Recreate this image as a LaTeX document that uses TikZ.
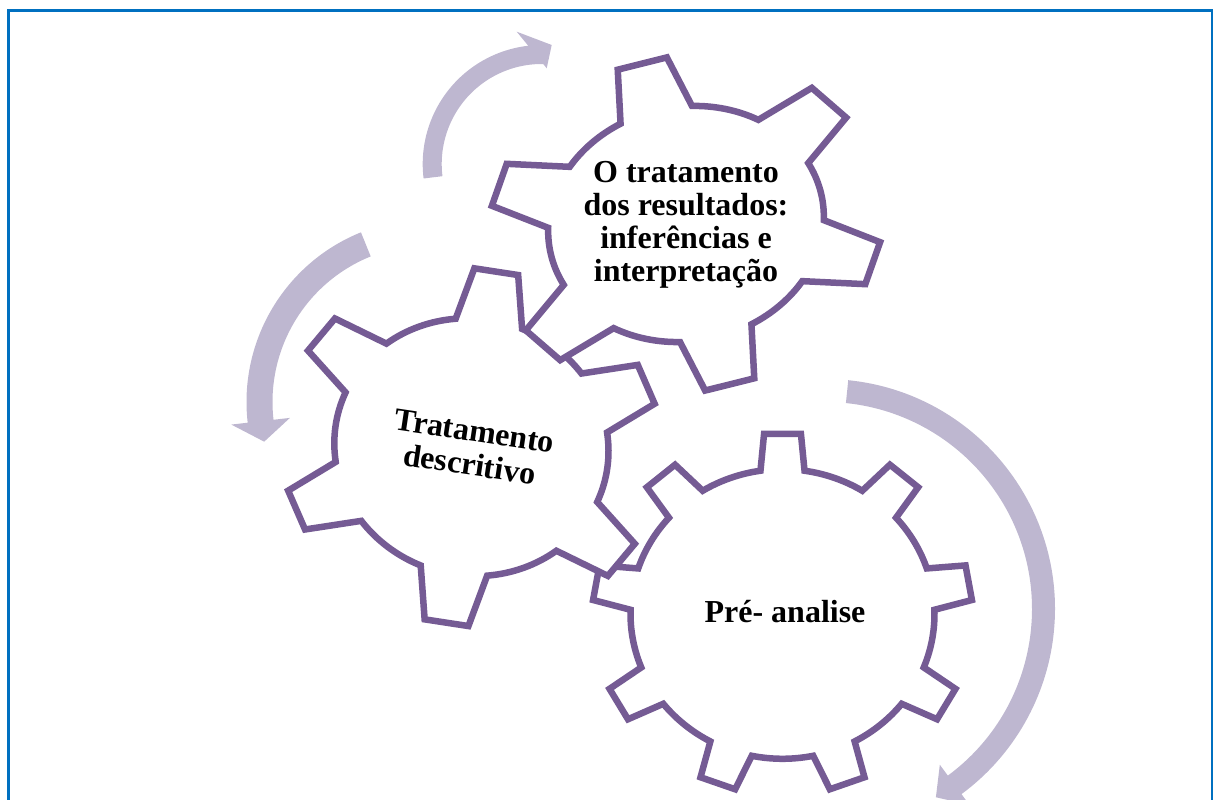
\documentclass[tikz,border=0pt]{standalone}
\usepackage{fontspec}
\setmainfont{Liberation Serif}
\definecolor{gearline}{RGB}{117,91,148}
\definecolor{arrowfill}{RGB}{190,183,208}
\definecolor{frameblue}{RGB}{0,112,192}
% #1 teeth, #2 first tooth angle, #3 inner radius, #4 tip half-width, #5 base half-width
\newcommand{\gearshape}[5]{%
  \pgfmathsetmacro\gD{360/#1}%
  \pgfmathsetmacro\gbo{asin(#4)}%
  \pgfmathsetmacro\gbb{asin(#5/#3)}%
  \pgfmathtruncatemacro\gM{#1-2}%
  \pgfmathsetmacro\gL{#2+(#1-1)*\gD}%
  \draw[gearoutline] ({#2-\gbo}:1)
    \foreach \k in {0,...,\gM}{
      -- ({#2+\k*\gD+\gbo}:1) -- ({#2+\k*\gD+\gbb}:#3)
      arc[start angle={#2+\k*\gD+\gbb}, end angle={#2+(\k+1)*\gD-\gbb}, radius=#3]
      -- ({#2+(\k+1)*\gD-\gbo}:1)
    }
    -- ({\gL+\gbo}:1) -- ({\gL+\gbb}:#3)
    arc[start angle={\gL+\gbb}, end angle={#2+360-\gbb}, radius=#3] -- cycle;
}
\begin{document}
\begin{tikzpicture}[x=1pt,y=1pt,
  gearoutline/.style={draw=gearline, line width=6.5pt, fill=white, line join=miter},
  arrowband/.style={fill=arrowfill, draw=none},
  gearlabel/.style={font=\fontsize{32}{33}\selectfont\bfseries, align=center, text=black, inner sep=0pt}]
\useasboundingbox (0,0) rectangle (1213,800);
% frame
\draw[frameblue, line width=2.5pt] (8.5,-5) -- (8.5,789.5) -- (1212,789.5) -- (1212,-5);

% circular arrows
\begin{scope}[shift={(541.7,636)}]
  \fill[arrowband] (187:119) arc[start angle=187, end angle=96.5, radius=119]
    -- (-25,132.3) -- (10,119) -- (5,95.7) -- (89.1:100)
    arc[start angle=89.1, end angle=187, radius=100] -- cycle;
\end{scope}
\begin{scope}[shift={(429.5,398)}]
  \fill[arrowband] (112:183) arc[start angle=112, end angle=186.5, radius=183]
    -- (186.5:199.5) -- (193.5:170) -- (186.5:140.5) -- (186.5:157)
    arc[start angle=186.5, end angle=112, radius=157] -- cycle;
\end{scope}
\begin{scope}[shift={(825,191)}]
  \fill[arrowband] (84.2:230) arc[start angle=84.2, end angle=-53.6, radius=230]
    -- (-53.6:243.5) -- (-59.5:218.5) -- (-53.6:193.5) -- (-53.6:207)
    arc[start angle=-53.6, end angle=84.2, radius=207] -- cycle;
\end{scope}

% gear: Pre-analise
\begin{scope}[cm={190,0,0,181,(782.5,186)}]
  \gearshape{9}{90}{0.80}{0.097}{0.116}
\end{scope}
\node[gearlabel] (t3) at (785,188) {Pré- analise};

% gear: Tratamento descritivo
\begin{scope}[cm={176,63.3,-72.7,167.5,(471.4,352.8)}]
  \gearshape{6}{0}{0.72}{0.116}{0.176}
\end{scope}
\node[gearlabel, font=\fontsize{32}{34}\selectfont\bfseries, rotate=-8.5] (t2) at (472,352) {Tratamento\\descritivo};

% gear: O tratamento dos resultados
\begin{scope}[cm={188.25,-39.5,57.8,164,(686,576)}]
  \gearshape{6}{0}{0.70}{0.128}{0.186}
\end{scope}
\node[gearlabel] (t1) at (686,575) {O tratamento\\dos resultados:\\inferências e\\interpretação};
\end{tikzpicture}
\end{document}
